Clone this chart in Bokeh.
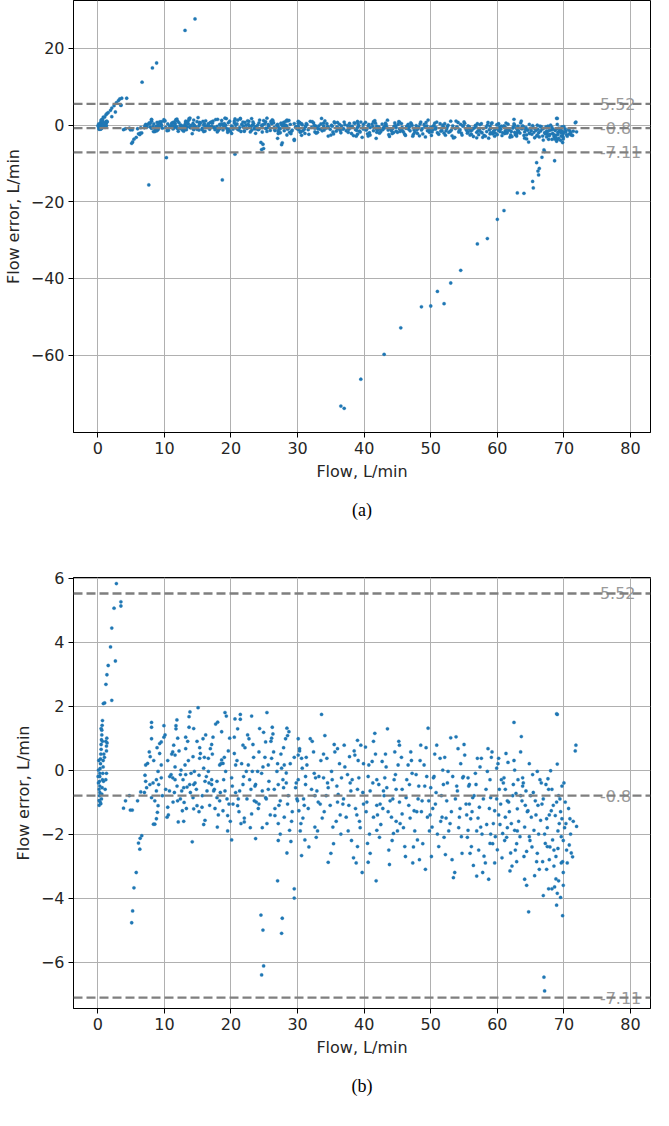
from bokeh.plotting import figure
from bokeh.models import Range1d, FixedTicker, Span, Title, CustomJSTickFormatter
from bokeh.layouts import column
from bokeh.embed import file_html
from bokeh.resources import INLINE
from bokeh.core.properties import value

# ---------------- data ----------------
zero_flow = [0.2, 0.2, 0.25, 0.3, 0.2, 0.3, 0.25, 0.3, 0.3, 0.35, 0.4, 0.4, 0.45, 0.5, 0.5, 0.55, 0.6, 0.6,
             0.65, 0.7, 0.55, 0.6, 0.65, 0.7, 0.75, 0.8, 0.8, 0.9, 1.2, 1.3, 1.3, 1.35, 1.4, 1.3, 1.2, 0.1,
             0.1, 0.15, 0.05, 0.45, 0.35, 0.85, 0.5, 0.7, 1.0, 1.1]
zero_err = [-1.1, -0.95, -0.8, -0.7, -0.6, -0.5, -0.35, -0.2, -0.1, 0.05, 0.2, 0.35, 0.5, 0.65, 0.8, 0.95, 1.1, 1.25,
            1.4, 1.55, -0.9, -0.75, -0.55, -0.3, -0.1, 0.1, 0.3, 0.5, 0.9, 0.75, 0.6, 1.0, 0.85, -0.1, -0.3, -0.4,
            0.0, 0.3, -0.2, -1.05, -1.0, -0.35, 1.3, 0.9, 0.4, -0.6]

rise_flow = [0.83, 1.03, 1.22, 1.37, 1.56, 1.91, 2.1, 2.44, 2.79, 3.47, 3.47, 2.64, 2.1, 3.1, 3.3, 3.6, 4.34,
             8.83, 8.2, 6.65, 13.1, 14.6]
rise_err = [2.08, 2.1, 2.68, 2.98, 3.27, 3.85, 4.44, 5.06, 5.83, 5.26, 5.13, 3.41, 2.18, 6.4, 6.8, 7.0, 7.0,
            16.2, 14.9, 11.2, 24.7, 27.7]

dip_flow = [3.86, 4.74, 4.89, 5.18, 5.97, 6.45, 6.6, 6.36, 6.11, 6.31, 5.77, 5.43, 5.23, 5.09, 4.16, 7.0]
dip_err = [-1.19, -0.8, -1.25, -1.25, -0.96, -0.68, -2.05, -2.13, -2.28, -2.47, -3.2, -3.68, -4.4, -4.77, -0.96, -0.7]

cloud_flow = [
    8.07, 8.07, 8.07, 7.73, 7.87, 7.48, 7.19, 7.09, 7.19, 7.33, 7.82, 8.3, 8.8, 9.05, 9.29, 9.29, 9.53, 9.93, 9.93,
    9.53, 9.53, 9.14, 8.8, 8.56, 9.05, 8.95, 8.56, 8.36, 8.8, 8.07,
    11.88, 11.74, 11.4, 11.25, 11.6, 11.74, 11.0, 11.25, 11.6, 10.76, 10.5, 10.4, 11.98, 12.08, 12.7, 12.96, 12.6,
    13.2, 13.1, 13.2, 13.2, 13.7, 13.7, 13.84, 15.06, 14.3, 14.5, 14.4, 14.3, 14.4, 14.9, 15.65, 15.8, 15.4, 15.3,
    15.9, 16.1, 16.4, 16.1, 16.6, 16.9, 17.3, 17.7, 17.1, 17.4, 17.9, 17.95, 18.3, 18.6, 18.8, 18.6, 19.1, 19.3,
    19.1, 18.3, 18.8, 19.5, 19.7, 19.2, 13.4, 13.8, 15.2, 16.6, 17.1, 17.9, 12.4, 12.9, 14.18,
    20.5, 20.5, 20.7, 21.0, 21.4, 21.4, 21.8, 23.1, 22.7, 22.6, 22.3, 21.8, 21.3, 21.0, 21.5, 22.0, 23.1, 23.5,
    23.7, 24.0, 24.2, 24.9, 25.4, 25.2, 25.6, 25.7, 25.2, 25.4, 26.2, 26.3, 26.1, 26.9, 27.1, 27.4, 27.1, 26.6,
    26.4, 24.7, 24.2, 23.2, 23.0, 20.3, 20.1, 27.6, 24.5, 27.7, 24.9, 27.0, 20.1, 23.7, 27.1,
    28.4, 28.5, 28.2, 28.0, 28.3, 27.9, 28.5, 28.0, 28.8, 29.0, 28.4, 29.5, 30.1, 30.1, 30.3, 30.6, 30.7, 29.7,
    30.0, 30.2, 30.5, 30.6, 31.1, 31.2, 31.4, 31.9, 32.4, 32.6, 32.7, 32.9, 33.4, 33.6, 33.9, 34.1, 34.4, 34.6,
    34.6, 35.1, 35.3, 35.6, 36.0, 36.1, 36.6, 36.8, 37.0, 37.3, 37.5, 37.8, 38.0, 38.4, 38.6, 38.8, 39.0, 39.0,
    39.2, 39.5, 39.7, 39.9, 40.2, 40.5, 40.6, 40.7, 40.9, 41.2, 41.4, 41.6, 41.8, 41.9, 42.2, 42.4, 42.7, 42.9,
    43.1, 43.4, 43.5, 43.8, 43.9, 44.1, 44.4, 44.6, 44.7, 45.1, 45.3, 45.4, 45.7, 46.1, 46.3, 46.6, 46.8, 47.0,
    47.3, 47.5, 47.8, 48.0, 48.3, 48.5, 48.7, 49.0, 49.2, 49.5, 49.6, 49.7, 50.0, 50.2, 50.4, 50.7, 50.9, 51.2,
    51.4, 51.7, 51.9, 52.2, 52.4, 52.6, 52.9, 53.0, 53.4, 53.6, 53.8, 54.0, 54.1, 54.3, 54.6, 54.8, 55.1, 55.3,
    55.6, 55.8, 56.1, 56.3, 56.4,
    55.6, 55.8, 56.0, 56.9, 57.0, 56.8, 57.3, 57.5, 57.8, 57.6, 58.0, 58.2, 58.5, 58.6, 58.7, 58.9, 59.0, 59.2,
    59.4, 59.6, 59.7, 59.9, 60.0, 60.2, 60.3, 60.5, 60.7, 60.8, 61.0, 61.2, 61.3, 61.5, 61.6, 61.9, 62.0, 62.1,
    62.4, 62.5, 62.6, 62.8, 62.9, 63.0, 63.1, 63.4, 63.5, 63.6, 63.7, 63.8, 64.1, 64.1, 64.3, 64.4, 64.6, 64.7,
    64.8, 65.1, 65.3, 65.5, 65.7, 65.9, 66.0, 66.3, 66.5, 66.7, 66.8, 66.9, 67.0, 67.2, 67.3, 67.4, 67.5, 67.6,
    67.7, 67.8, 68.0, 68.1, 68.2, 68.3, 68.5, 68.6, 68.7, 68.9, 69.0, 69.0, 69.0, 69.1, 69.2, 69.3, 69.5, 69.6,
    69.7, 69.8, 69.8, 69.9, 69.7, 70.3, 70.8, 70.9, 71.1, 71.3, 71.8, 71.9]
cloud_err = [
    1.49, 1.34, 0.98, 0.57, 0.42, 0.21, 0.16, -0.16, -0.35, -0.55, -0.45, -0.4, -0.3, -0.04, 0.52, 0.83, 0.88, 1.39, 1.03,
    0.16, -0.24, -0.45, -0.65, -0.96, -1.11, -1.32, -1.69, -1.69, -1.52, -0.86,
    1.57, 1.39, 0.78, 0.57, 0.47, 1.29, -0.14, -0.24, -0.3, -0.65, -1.16, -1.47, -0.96, -1.62, -1.27, -1.01, -0.65,
    -0.14, 0.16, 0.67, 1.03, 1.34, 1.67, 1.82, 1.95, 0.42, -0.04, -0.45, -0.86, -1.21, -1.11, -1.16, 0.98, 0.52, 0.37,
    0.06, -0.35, -0.65, -1.57, 0.37, 0.67, 1.03, 1.44, -0.3, -0.65, -0.35, -1.78, 0.16, 0.32, 0.21, 1.2, 1.8, 1.69,
    -0.65, -0.96, -1.27, -1.42, -1.06, -0.04, -0.53, -0.45, -0.16, -0.04, -0.45, -0.86, -0.14, -0.55, -2.24,
    1.03, 0.52, 0.16, 1.29, 1.74, 1.59, 0.78, 1.69, 0.98, 0.16, -0.04, -0.45, -0.65, -1.11, -1.67, -1.62, -1.37, -0.96,
    -0.45, -0.04, 0.57, 1.18, 1.8, 0.88, 0.16, -0.35, -0.86, -1.67, 1.34, 1.13, 0.37, -0.04, -0.45, -0.96, -1.67, -1.42,
    0.57, -0.65, -1.06, -0.04, -0.6, -1.06, -0.24, 0.06, -4.53, -4.63, -6.12, -3.46, -2.18, -2.14, -2.2,
    1.31, 1.08, 0.98, 0.16, -0.09, -0.55, -1.06, -1.47, -1.88, -2.23, -2.59, -3.71, 0.98, 0.47, 0.67, 0.37, 0.06, -0.55,
    -0.96, -1.27, -1.67, -2.67, -2.18, -0.45, 0.16, 0.98, 0.57, -1.78, -0.24, -0.65, -1.06, 1.74, -0.24, 1.08, 0.37, -2.88,
    -0.55, -0.04, -1.78, 0.57, 0.67, -0.76, -0.24, -1.06, 0.78, -1.47, -0.14, 0.42, -0.65, -2.74, 0.47, -2.9, 0.93, -2.39,
    -0.24, 0.78, -3.2, -1.06, 0.72, -2.29, -2.88, 0.16, -0.65, 0.27, -1.47, 1.15, -3.46, -1.88, -0.45, -1.06, 0.27, -0.65,
    -0.24, -0.55, 1.29, -2.95, -0.96, -1.47, -1.98, 0.57, -0.14, 0.16, 0.78, -1.67, -1.37, -2.39, -0.86, 0.16, -0.45, 0.57,
    -2.9, -1.27, -0.14, -2.18, -2.8, 0.78, -0.96, 0.16, -3.1, -1.47, 1.31, -0.96, -0.55, -1.78, -0.24, -1.06, 0.78, -2.39,
    0.37, -1.47, -0.45, -2.64, -0.96, -0.04, -1.67, 1.01, -3.36, -3.2, 1.04, -0.65, 0.67, -1.47, -2.08, -0.24, 0.47, -1.06,
    -1.88, -0.45, -2.39, -0.86, -2.98,
    -0.24, -1.06, -1.52, -3.31, 0.37, -0.45, -1.16, -1.78, -3.2, 0.37, -2.69, -2.9, -0.04, 0.67, -3.41, -2.29, -0.86, 0.57,
    -1.67, -1.27, -2.08, 0.06, -2.49, 0.37, -0.6, -1.06, -2.74, -1.98, -0.24, -1.47, 0.52, -0.96, 0.24, -3.15, -2.59, -1.67,
    -0.45, 1.49, -1.88, -0.73, -2.86, -1.21, -0.3, -2.08, 0.57, 1.05, -0.96, -0.24, -3.41, -1.78, -0.65, -2.54, -1.27, -4.43,
    -2.08, -1.47, -0.14, -1.88, -0.96, -2.86, -0.04, -3.1, -1.57, -1.06, -2.86, -3.92, -6.47, -2.29, -0.45, -1.52, -2.39, -0.27,
    -3.71, -2.8, -0.02, -1.27, -3.71, -2.18, -3.0, -3.65, -1.42, -4.22, 1.74, 0.19, -3.85, -2.45, -3.46, -1.67, -3.98, -2.08,
    -0.5, -2.86, -4.55, -3.2, -1.52, -1.67, -2.34, -1.52, -2.59, -2.71, 0.78, -1.76]

band_flow = [10.2, 10.8, 11.3, 11.9, 12.4, 12.8, 13.3, 13.9, 14.6, 15.2, 15.7, 16.3, 16.8, 17.5, 18.1, 18.9, 19.4,
             19.9, 20.7, 21.2, 21.9, 22.4, 22.9, 23.6, 24.1, 24.6, 25.3, 25.9, 26.5, 27.2, 27.8, 28.6, 29.2, 29.8,
             30.4, 30.9, 31.6, 32.1, 32.8, 33.2, 33.7, 34.3, 34.9, 35.4, 35.9, 36.4, 36.9, 37.6, 38.2, 38.7, 39.3,
             39.8, 40.3, 40.8, 41.3, 41.9, 42.5, 43.0, 43.6, 44.2, 44.8, 45.3, 45.9, 46.4, 46.9, 47.4, 48.1, 48.6,
             49.1, 49.8, 50.3, 50.8, 51.5, 52.0, 52.5, 53.1, 53.7, 54.2, 54.9, 55.4, 55.9, 56.5, 57.1, 57.7, 58.3,
             58.8, 59.3, 59.9, 60.4, 60.9, 61.4, 61.8, 62.3, 62.7, 63.2, 63.8, 64.2, 64.9, 65.4, 65.8, 66.2, 66.9,
             67.5, 67.9, 68.4, 68.8, 69.2, 69.5, 69.9, 70.2, 70.5,
             10.5, 11.6, 12.2, 13.6, 14.9, 16.0, 17.1, 18.5, 19.6, 20.9, 22.1, 23.4, 24.8, 26.0, 27.5, 28.9, 30.1,
             31.3, 32.5, 33.9, 35.2, 36.3, 37.9, 39.1, 40.6, 41.7, 43.3, 44.5, 45.6, 47.2, 48.4, 49.4, 50.6, 51.8,
             53.3, 54.5, 55.7, 57.4, 58.9, 60.1, 61.2, 62.6, 63.9, 65.0, 66.4, 67.7, 68.9, 70.0]
band_err = [-0.6, -0.2, -1.0, -0.5, -0.9, -0.3, -1.2, -0.7, -0.4, -1.3, -0.8, -0.2, -1.1, -0.6, -1.4, -0.3, -0.9,
            -1.6, -0.7, -1.3, -0.2, -0.9, -1.8, -0.5, -1.2, -0.1, -0.9, -1.4, -0.6, -1.1, -0.3, -0.8, -1.3, -0.4,
            -1.9, -0.9, -1.2, -0.6, -2.1, -0.2, -1.5, -0.8, -1.1, -2.3, -0.5, -1.4, -0.9, -1.9, -0.3, -1.2, -1.6,
            -0.7, -1.3, -2.0, -0.4, -1.1, -1.7, -0.8, -1.3, -2.2, -0.6, -1.0, -1.8, -0.3, -1.5, -2.4, -0.9, -1.3,
            -0.5, -1.9, -1.2, -0.7, -1.6, -2.1, -0.4, -1.3, -0.9, -1.8, -0.2, -1.4, -2.6, -0.8, -1.5, -2.0, -0.6,
            -1.2, -2.3, -0.9, -1.7, -0.4, -2.1, -1.3, -0.8, -2.5, -1.6, -0.5, -1.1, -2.2, -0.7, -1.4, -2.0, -0.9,
            -1.8, -2.4, -1.1, -2.7, -0.8, -1.3, -2.2, -1.0, -2.9,
            0.3, 0.1, 0.6, 0.3, 0.9, 0.4, 0.8, 0.2, 0.6, 0.3, 0.7, 0.4, 0.1, 0.9, 0.5, 0.2, -0.3,
            0.4, -0.1, 0.5, -0.3, 0.2, -0.4, 0.3, -0.2, 0.5, 0.1, -0.3, 0.4, -0.1, 0.3, -0.2, 0.5, 0.0,
            -0.2, 0.2, -0.5, 0.1, -0.3, 0.2, -0.6, 0.0, -0.4, -0.8, -0.3, -0.6, -1.0, -0.4]

fill_flow = [8.4, 8.9, 9.7, 10.1, 10.6, 11.1, 11.5, 12.0, 12.5, 12.9, 13.5, 14.0, 14.4, 14.8, 15.3, 15.9, 16.2,
             16.7, 17.2, 17.6, 18.0, 18.4, 19.0, 19.5, 19.8, 20.2, 20.6, 21.1, 21.6, 22.0, 22.5, 22.8, 23.3, 23.8,
             24.3, 24.7, 25.1, 25.6, 26.1, 26.6, 27.0, 27.4, 27.9, 28.3, 28.7, 29.1, 29.5, 29.9,
             30.3, 30.8, 31.2, 31.7, 32.2, 32.6, 33.0, 33.5, 34.0, 34.5, 35.0, 35.5, 36.0, 36.5, 37.1, 37.7, 38.1,
             38.5, 39.0, 39.4, 39.9, 40.4, 40.9, 41.4, 41.9, 42.3, 42.8, 43.2, 43.7, 44.3, 44.8, 45.2, 45.7, 46.2,
             46.7, 47.1, 47.6, 48.2, 48.8, 49.3, 49.9, 50.5, 51.0, 51.6, 52.1, 52.7, 53.2, 53.9, 54.4, 55.0, 55.5,
             56.2, 56.7, 57.2, 57.9, 58.4, 59.1, 59.6, 60.2,
             60.6, 61.1, 61.7, 62.2, 62.5, 63.0, 63.5, 64.0, 64.5, 64.8, 65.2, 65.6, 66.1, 66.6, 67.1, 67.4, 67.8,
             68.2, 68.5, 68.8, 69.1, 69.4, 69.6, 69.9, 70.1, 70.4, 70.7, 71.0, 71.4, 66.0, 64.4, 62.9, 61.5, 59.0,
             56.9, 54.7, 52.3, 50.1, 47.9, 45.0, 42.0, 38.9, 35.8, 33.1, 31.0]
fill_err = [0.3, 0.7, -0.8, 1.1, -1.4, 0.5, -0.7, 1.0, 0.0, -1.6, 0.9, -0.1, 1.3, -0.6, 0.7, -1.7, 1.1,
            -0.4, 0.5, -1.2, 1.5, -0.7, 0.4, -1.9, 1.0, -0.5, 1.6, -0.9, 0.2, -1.5, 1.1, -0.3, 0.8, -1.0,
            1.3, -1.8, 0.4, -0.6, 1.0, -1.2, 0.2, -2.0, 0.7, -0.4, 1.2, -1.6, 0.4, -0.9,
            0.6, -1.5, -0.2, -2.4, 0.9, -0.8, -1.9, 0.3, -1.3, -0.4, -2.6, 0.8, -1.0, -2.0, 0.1, -1.1, -2.2,
            0.6, -0.6, -1.8, 0.2, -1.0, -2.6, 0.9, -0.3, -2.1, -1.2, 0.5, -2.5, -0.9, -1.6, 0.9, -0.6, -2.7,
            -1.1, 0.3, -1.9, -0.5, -2.3, 0.7, -1.4, -0.2, -2.0, -0.8, 0.4, -1.9, -2.8, -0.5, -1.2, 0.8, -2.1,
            -1.3, -0.1, -2.5, -0.9, -1.7, 0.4, -2.9, -1.4,
            -0.3, -2.2, -1.0, -3.0, 0.3, -1.9, -0.8, -2.7, -1.3, 0.2, -2.4, -3.3, -1.1, -0.4, -2.0, -3.1, -1.4,
            -0.6, -2.5, -3.4, -1.9, -0.9, -2.9, -3.6, -1.8, -2.5, -1.2, -2.0, -1.6, -2.6, -3.6, -2.3, -1.8, -2.0,
            -1.9, -2.6, -1.5, -2.7, -1.3, -1.9, -1.4, -1.4, -1.6, -1.0, -1.1]

outlier_flow = [7.66, 18.7, 10.3, 20.6, 24.6, 24.8, 27.6, 29.5, 68.6, 68.9, 71.7]
outlier_err = [-15.6, -14.3, -8.5, -7.6, -6.4, -5.0, -5.1, -4.0, -9.3, 1.76, 0.6]

tail_flow = [36.5, 37.0, 39.5, 43.0, 45.5, 48.6, 50.0, 51.0, 52.0, 53.0, 54.5, 57.0, 58.5, 60.0, 61.0, 63.0,
             64.0, 65.4, 65.3, 66.2, 66.1, 66.3, 65.9, 66.7, 67.1]
tail_err = [-73.3, -73.9, -66.3, -59.8, -52.9, -47.4, -47.2, -43.4, -46.6, -41.2, -37.9, -31.0, -29.6, -24.6, -22.3,
            -17.7, -17.8, -16.4, -14.7, -13.0, -12.0, -11.3, -9.8, -8.4, -6.9]

limit_values = [5.52, -0.8, -7.11]
limit_labels = ["5.52", "-0.8", "-7.11"]
limit_label_flow = 75.4

x_ticks = [0, 10, 20, 30, 40, 50, 60, 70, 80]
ya_ticks = [-60, -40, -20, 0, 20]
yb_ticks = [-6, -4, -2, 0, 2, 4, 6]

flow = zero_flow + rise_flow + dip_flow + cloud_flow + band_flow + fill_flow + outlier_flow + tail_flow
err = zero_err + rise_err + dip_err + cloud_err + band_err + fill_err + outlier_err + tail_err

FONT = "DejaVu Sans"
minus_fmt = CustomJSTickFormatter(code="return tick < 0 ? '\\u2212' + Math.abs(tick) : String(tick);")


def make_panel(y_lo, y_hi, yticks, caption, height, top_border, frame_h):
    p = figure(width=653, height=height, x_range=Range1d(-3.65, 83.0), y_range=Range1d(y_lo, y_hi),
               output_backend="svg", toolbar_location=None,
               min_border_left=67, min_border_right=3, min_border_top=top_border,
               min_border_bottom=height - top_border - frame_h)
    p.outline_line_color = "black"
    p.outline_line_width = 1
    p.background_fill_color = "white"
    p.border_fill_color = "white"

    p.xaxis.ticker = FixedTicker(ticks=x_ticks)
    p.yaxis.ticker = FixedTicker(ticks=yticks)
    for ax in (p.xaxis, p.yaxis):
        ax.formatter = minus_fmt
        ax.major_label_text_font = FONT
        ax.major_label_text_font_size = "16px"
        ax.major_label_text_color = "#262626"
        ax.axis_label_text_font = FONT
        ax.axis_label_text_font_size = "16px"
        ax.axis_label_text_font_style = "normal"
        ax.axis_label_text_color = "#262626"
        ax.major_tick_out = 5
        ax.major_tick_in = 0
        ax.minor_tick_line_color = None
        ax.axis_line_color = "black"
        ax.major_tick_line_color = "black"
        ax.major_label_standoff = 4
        ax.axis_label_standoff = 5
    p.xaxis.axis_label = "Flow, L/min"
    p.yaxis.axis_label = "Flow error, L/min"

    p.grid.grid_line_color = "#b0b0b0"
    p.grid.grid_line_width = 1

    p.scatter(flow, err, size=3.3, fill_color="#1f77b4", line_color="#1f77b4", line_width=0.3)

    for v in limit_values:
        p.add_layout(Span(location=v, dimension="width", line_color="#7f7f7f",
                          line_dash="9 4", line_width=2.3))
    p.text(x=[limit_label_flow] * len(limit_values), y=limit_values, text=limit_labels,
           text_font=value(FONT), text_font_size="16px", text_color="#9a9a9a",
           text_align="left", text_baseline="alphabetic")

    p.add_layout(Title(text=caption, align="center", text_font="Liberation Serif",
                       text_font_size="18px", text_font_style="normal", text_color="black",
                       standoff=29), "below")
    return p


pa = make_panel(-80.2, 32.5, ya_ticks, "(a)", 547, 0, 432)
pb = make_panel(-7.45, 6.02, yb_ticks, "(b)", 563, 30, 431)

layout = column(pa, pb, spacing=0)
open("out.html", "w").write(file_html(layout, INLINE))
